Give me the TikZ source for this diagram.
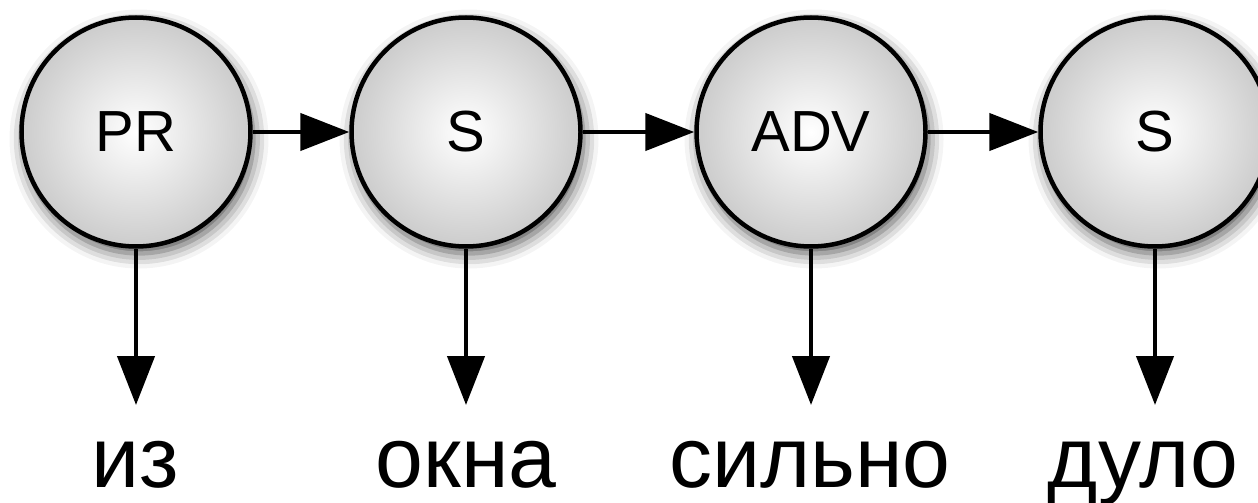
\documentclass[tikz,border=0pt]{standalone}
\usepackage{fontspec}
\setmainfont{Liberation Sans}
\usetikzlibrary{arrows.meta,shadows.blur}
\begin{document}
\begin{tikzpicture}[x=1pt,y=-1pt,
  tag/.style={circle, draw=black, line width=4.5pt, minimum size=229pt,
    inner color=white, outer color=black!20,
    blur shadow={shadow xshift=3pt, shadow yshift=-7pt,
      shadow blur radius=15pt, shadow opacity=70},
    font=\fontsize{58}{62}\selectfont},
  word/.style={anchor=base, inner sep=0pt, font=\fontsize{86}{90}\selectfont},
  link/.style={line width=4.5pt, -{Triangle[length=49pt,width=37pt]}}]
  \useasboundingbox (0,0) rectangle (1258,503);
  % part-of-speech tags
  \node[tag] (t1) at (136,132) {PR};
  \node[tag] (t2) at (466,132) {S};
  \node[tag] (t3) at (811,132) {ADV};
  \node[tag] (t4) at (1155,132) {S};
  % arrow ends above the words
  \coordinate (e1) at (136,405);
  \coordinate (e2) at (466,405);
  \coordinate (e3) at (811,405);
  \coordinate (e4) at (1155,405);
  % words
  \node[word] (w1) at (135,487) {из};
  \node[word] (w2) at (466,487) {окна};
  \node[word] (w3) at (810,487) {сильно};
  \node[word] (w4) at (1143,487) {дуло};
  % transitions between tags
  \draw[link] (t1) -- (t2);
  \draw[link] (t2) -- (t3);
  \draw[link] (t3) -- (t4);
  % emissions
  \draw[link] (t1.south) -- (e1);
  \draw[link] (t2.south) -- (e2);
  \draw[link] (t3.south) -- (e3);
  \draw[link] (t4.south) -- (e4);
\end{tikzpicture}
\end{document}
